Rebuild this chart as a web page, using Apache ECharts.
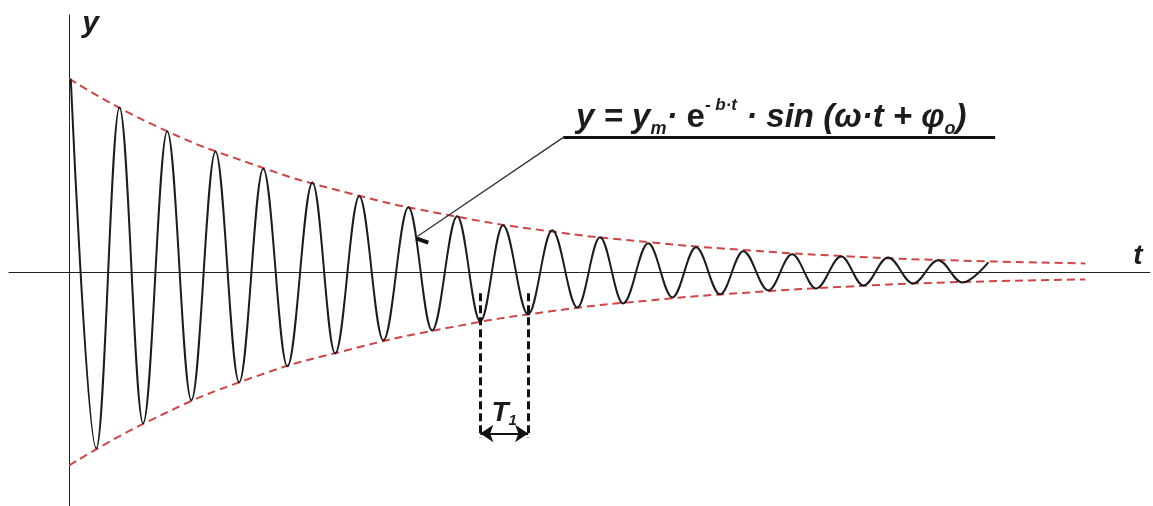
<!DOCTYPE html>
<html>
<head>
<meta charset="utf-8">
<title>Damped oscillation</title>
<script src="https://cdn.jsdelivr.net/npm/echarts@6/dist/echarts.min.js"></script>
<style>
  html, body { margin: 0; padding: 0; background: #ffffff; }
  #chart { width: 1153px; height: 506px; }
</style>
</head>
<body>
<div id="chart"></div>
<script>
// Extrema of the damped oscillation y = ym·e^(-b·t)·sin(ω·t + φo)
// t is measured in (roughly) periods, y relative to the initial amplitude.
const peakT = [0.03, 1.04, 2.03, 3.03, 4.02, 5.04, 6.01, 7.03, 8.04, 8.99, 10.01, 11.0, 12.0, 12.99, 13.97, 14.98, 16.0, 16.97, 18.01, 19.05];
const peakY = [1.0, 0.852, 0.728, 0.624, 0.535, 0.464, 0.392, 0.335, 0.289, 0.242, 0.216, 0.180, 0.149, 0.128, 0.108, 0.092, 0.081, 0.076, 0.061, 0.05];
const troughT = [0.56, 1.53, 2.53, 3.52, 4.52, 5.51, 6.51, 7.52, 8.52, 9.51, 10.53, 11.48, 12.5, 13.49, 14.49, 15.48, 16.46, 17.49, 18.51];
const troughY = [-0.912, -0.782, -0.663, -0.570, -0.487, -0.421, -0.353, -0.302, -0.255, -0.219, -0.183, -0.162, -0.131, -0.115, -0.095, -0.085, -0.069, -0.059, -0.054];

// Exponential envelope ±ym·e^(-b·t)
const envT = [0, 1.68, 3.75, 5.82, 7.9, 9.97, 12.04, 14.11, 16.19, 18.26, 21.06];
const upperY = [1.0, 0.769, 0.562, 0.407, 0.293, 0.211, 0.154, 0.112, 0.081, 0.061, 0.045];
const lowerY = [-1.0, -0.767, -0.55, -0.40, -0.286, -0.203, -0.146, -0.105, -0.074, -0.053, -0.038];

// Axis names and annotation texts
const axisNameT = 't';
const axisNameY = 'y';
const periodIndex = 8;   // the two troughs that mark one period T1

// Alternate peaks and troughs along t
const oscillation = [];
for (let i = 0; i < peakT.length; i++) {
  oscillation.push([peakT[i], peakY[i]]);
  if (i < troughT.length) oscillation.push([troughT[i], troughY[i]]);
}
const upperEnv = envT.map((t, i) => [t, upperY[i]]);
const lowerEnv = envT.map((t, i) => [t, lowerY[i]]);

const FONT = '"Liberation Sans", Arial, sans-serif';
const INK = '#1c1c1c';
const RED = '#cf4545';

// Period marker geometry (in data units)
const tA = troughT[periodIndex];
const tB = troughT[periodIndex + 1];
const markTop = -0.11, markBottom = -0.855, arrowY = -0.835;

// Formula underline and leader line
const underlineY = 0.697, underlineStart = 10.24, underlineEnd = 19.19;
const leaderEnd = [7.22, 0.185];
const formulaAt = [14.55, 0.80];

const chart = echarts.init(document.getElementById('chart'), null, { renderer: 'canvas' });

chart.setOption({
  animation: false,
  backgroundColor: '#ffffff',
  grid: { left: 9, right: 3, top: 15, bottom: 0, containLabel: false },
  xAxis: {
    type: 'value', min: -1.25, max: 22.4,
    axisLine: { show: true, onZero: true, lineStyle: { color: '#222', width: 1 } },
    axisTick: { show: false }, axisLabel: { show: false }, splitLine: { show: false },
    name: axisNameT, nameLocation: 'end', nameGap: -12,
    nameTextStyle: { fontFamily: FONT, fontWeight: 'bold', fontStyle: 'italic', fontSize: 28, color: INK,
                     align: 'center', verticalAlign: 'bottom', padding: [0, 0, 2, 0] }
  },
  yAxis: {
    type: 'value', min: -1.21, max: 1.33,
    axisLine: { show: true, onZero: true, lineStyle: { color: '#222', width: 1 } },
    axisTick: { show: false }, axisLabel: { show: false }, splitLine: { show: false },
    name: axisNameY, nameLocation: 'end', nameGap: -9,
    nameTextStyle: { fontFamily: FONT, fontWeight: 'bold', fontStyle: 'italic', fontSize: 30, color: INK,
                     align: 'left', verticalAlign: 'middle', padding: [0, 0, 0, 13] }
  },
  series: [
    {
      name: 'oscillation', type: 'line', data: oscillation,
      smooth: 0.36, smoothMonotone: 'x', showSymbol: false, symbol: 'none',
      lineStyle: { color: INK, width: 2 }, z: 3
    },
    {
      name: 'envelope+', type: 'line', data: upperEnv, smooth: true, showSymbol: false, symbol: 'none',
      lineStyle: { color: RED, width: 2, type: [8, 5] }, z: 2
    },
    {
      name: 'envelope-', type: 'line', data: lowerEnv, smooth: true, showSymbol: false, symbol: 'none',
      lineStyle: { color: RED, width: 2, type: [8, 5] }, z: 2
    },
    {
      name: 'annotations', type: 'line', data: [], silent: true, z: 4,
      markLine: {
        silent: true, symbol: ['none', 'none'], label: { show: false }, animation: false,
        data: [
          // formula underline
          [{ coord: [underlineStart, underlineY], lineStyle: { color: '#111', width: 3, type: 'solid' } },
           { coord: [underlineEnd, underlineY] }],
          // leader to the curve
          [{ coord: [underlineStart, underlineY], lineStyle: { color: '#333', width: 1.3, type: 'solid' } },
           { coord: leaderEnd }],
          // short pointer tick
          [{ coord: [7.19, 0.175], lineStyle: { color: '#111', width: 4, type: 'solid' } },
           { coord: [7.44, 0.152] }],
          // period boundaries
          [{ coord: [tA, markTop], lineStyle: { color: '#111', width: 3, type: [8, 4] } },
           { coord: [tA, markBottom] }],
          [{ coord: [tB, markTop], lineStyle: { color: '#111', width: 3, type: [8, 4] } },
           { coord: [tB, markBottom] }],
          // double arrow between them
          [{ coord: [tA, arrowY], symbol: 'arrow', symbolSize: 13, lineStyle: { color: '#111', width: 2, type: 'solid' } },
           { coord: [tB, arrowY], symbol: 'arrow', symbolSize: 13 }]
        ]
      },
      markPoint: {
        silent: true, symbol: 'circle', symbolSize: 0, animation: false,
        data: [
          {
            coord: formulaAt,
            label: {
              show: true, position: 'inside',
              formatter: '{v|y = y}{sub|m}{v|· }{e|e}{sup|- b·t}{v| · sin (ω·t + φ}{sub|o}{v|)}',
              rich: {
                v:   { fontFamily: FONT, fontWeight: 'bold', fontStyle: 'italic', fontSize: 33, color: INK, lineHeight: 42, verticalAlign: 'middle' },
                e:   { fontFamily: FONT, fontWeight: 'bold', fontSize: 33, color: INK, lineHeight: 42, verticalAlign: 'middle' },
                sub: { fontFamily: FONT, fontWeight: 'bold', fontStyle: 'italic', fontSize: 18, color: INK, lineHeight: 17, verticalAlign: 'bottom' },
                sup: { fontFamily: FONT, fontWeight: 'bold', fontStyle: 'italic', fontSize: 17, color: INK, lineHeight: 17, verticalAlign: 'top' }
              }
            }
          },
          {
            coord: [(tA + tB) / 2, -0.73],
            label: {
              show: true, position: 'inside',
              formatter: '{T|T}{s|1}',
              rich: {
                T: { fontFamily: FONT, fontWeight: 'bold', fontStyle: 'italic', fontSize: 28, color: INK, lineHeight: 30, verticalAlign: 'middle' },
                s: { fontFamily: FONT, fontWeight: 'bold', fontStyle: 'italic', fontSize: 15, color: INK, lineHeight: 15, verticalAlign: 'bottom' }
              }
            }
          }
        ]
      }
    }
  ]
});
</script>
</body>
</html>
